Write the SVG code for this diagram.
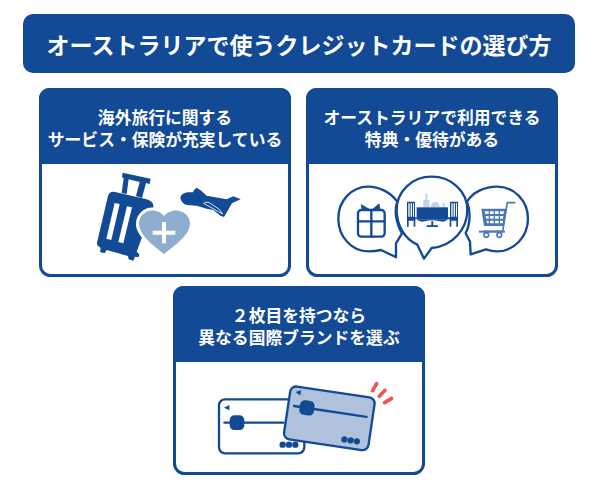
<svg xmlns="http://www.w3.org/2000/svg" width="600" height="490" viewBox="0 0 600 490">
<style>
.h{fill:#134a96}
.p{fill:#fff;stroke:#134a96;stroke-width:3}
.t{font-family:"Noto Sans CJK JP","Noto Sans",sans-serif;font-weight:700;fill:#fff;text-anchor:middle}
.c{font-size:16.800px}
.l{fill:none;stroke:#134a96;stroke-width:7;stroke-linejoin:round;stroke-linecap:round}
.f{fill:#134a96}
.w{fill:#fff}
</style>
<rect width="600" height="490" fill="#fff"/>
<g id="title"><rect x="23" y="14" width="552" height="59" rx="10" class="h"/>
<text x="299" y="54" class="t" font-size="23">オーストラリアで使うクレジットカードの選び方</text></g>

<g id="card-travel">
<rect x="40.500" y="89.500" width="249" height="186" rx="10" class="p"/>
<path d="M39 164V98a10 10 0 0 1 10-10H281a10 10 0 0 1 10 10V164Z" class="h"/>
<text x="165" y="123.500" class="t c">海外旅行に関する</text>
<text x="165" y="145.500" class="t c">サービス・保険が充実している</text>
<g transform="translate(40 160) scale(.3333)">
<path class="f" d="M248 38 332 56 329 72 318 69 306 114 288 108 299 66 266 58 260 102 245 99 251 54 246 52Z"/>
<path class="f" d="M222 95 320 118Q342 126 340 140L290 275 298 283 296 292 285 290 280 302 266 298 264 288 200 270 194 280 180 276 182 264 172 256Q170 250 172 244L204 108Q208 94 222 95Z"/>
<path class="w" d="M224 129 239 132 214 240 199 236ZM261 139 276 142 250 250 235 246Z"/>
<path class="w" d="M372 292C340 262 288 232 288 192 288 160 318 136 348 144 358 146 366 150 372 156 378 150 388 146 398 144 428 138 458 160 458 192 458 232 404 262 372 292Z"/>
<path fill="#8fadd0" d="M372 283C340 256 297 226 297 190 297 165 320 147 345 152 357 154 366 160 372 168 378 160 388 154 400 152 425 148 450 165 450 190 450 226 404 256 372 283Z"/>
<path class="w" d="M366 186H378V212H406V224H378V250H366V224H338V212H366Z"/>
<path class="f" d="M421 113Q424 100 442 97L459 97 462 90 470 83 484 92 500 107 560 118 580 109 602 118 576 130 552 171 541 167 520 150 500 146 470 137 440 135Q424 130 421 113Z"/>
<path fill="none" stroke="#fff" stroke-width="2.500" d="M491 130Q495 124 508 128L538 148 548 162 530 152Z"/>
</g>
</g>

<g id="card-benefit">
<rect x="307.500" y="89.500" width="249" height="186" rx="10" class="p"/>
<path d="M306 164V98a10 10 0 0 1 10-10H548a10 10 0 0 1 10 10V164Z" class="h"/>
<text x="432" y="123.500" class="t c">オーストラリアで利用できる</text>
<text x="432" y="145.500" class="t c">特典・優待がある</text>
<g transform="translate(310 160) scale(.3333)">
<path class="l" d="M258 292 246 286 213 270C200 273 188 274 175 274 125 274 85 230 85 176 85 122 125 80 175 80 205 80 240 95 262 125 252 150 258 190 276 220L258 250Z"/>
<path class="l" d="M482 283 480 245 467 220C482 190 482 150 471 125 490 95 525 80 562 80 612 80 654 122 654 176 654 230 612 274 562 274 550 274 540 272 528 268Z"/>
<path class="l" style="fill:#fff" d="M342 296 322 254C285 238 260 196 260 150 260 94 306 50 365 50 424 50 472 94 472 150 472 206 430 258 365 264Z"/>
<g><rect class="l" x="144" y="150" width="80" height="80" rx="10"/>
<path class="l" d="M144 184H224M184 150V230"/>
<path class="f" d="M152 132 184 150 208 130 212 153H156Z"/></g>
<g fill="#134a96">
<path fill="#c3d3e6" d="M340 142V120H346V100H352V120H358V142ZM362 142Q364 126 376 126 388 126 390 142ZM398 128h6v14h-6Z"/>
<rect x="320" y="142" width="94" height="36"/>
<path d="M320 178Q330 188 345 184 366 178 390 184 405 188 414 178ZM364 184H370V196H384V201H350V196H364Z"/>
<path d="M291 125H315V172H320V178H316V200H311V182H296V200H291ZM295 130V170H299V130ZM302 130V170H306V130ZM309 130V170H312V130Z" fill-rule="evenodd"/>
<path d="M420 125H444V172 200H439V182H424V200H419V178H414V172H420ZM424 130V170H428V130ZM431 130V170H435V130ZM438 130V170H441V130Z" fill-rule="evenodd"/>
</g>
<g fill="#4e78b3">
<path fill="none" stroke="#4e78b3" stroke-width="5" d="M616 128H592L578 214H520"/>
<path fill-rule="evenodd" d="M514 146H590L582 198H522ZM524 154 526 162H536V154ZM540 154V162H551V154ZM555 154V162H566V154ZM570 154V162H581L582 154ZM527 168 529 176H536V168ZM540 168V176H551V168ZM555 168V176H566V168ZM570 168V176H579L580 168ZM530 182 531 190H536V182ZM540 182V190H551V182ZM555 182V190H566V182ZM570 182V190H578L579 182Z"/>
<rect x="507" y="212" width="78" height="6"/>
</g>
<circle cx="529" cy="225" r="7" fill="#fff" stroke="#4e78b3" stroke-width="5"/>
<circle cx="568" cy="225" r="7" fill="#fff" stroke="#4e78b3" stroke-width="5"/>
</g>
</g>

<g id="card-brand">
<rect x="174.500" y="287.500" width="249" height="186" rx="10" class="p"/>
<path d="M173 362V296a10 10 0 0 1 10-10H415a10 10 0 0 1 10 10V362Z" class="h"/>
<text x="299" y="321.500" class="t c">２枚目を持つなら</text>
<text x="299" y="343.500" class="t c">異なる国際ブランドを選ぶ</text>
<g transform="translate(200 370) scale(.3333)">
<rect x="57" y="88" width="256" height="162" rx="18" fill="#fff" stroke="#134a96" stroke-width="7"/>
<path class="f" d="M72 113 88 105V121Z"/>
<path class="l" d="M73 158H250"/>
<rect x="89" y="136" width="44" height="44" rx="14" class="f"/>
<circle cx="248" cy="224" r="9.500" class="f"/><circle cx="267" cy="224" r="9.500" class="f"/><circle cx="286" cy="224" r="9.500" class="f"/>
<g transform="rotate(8.500 388 145)">
<rect x="260" y="65" width="256" height="160" rx="18" fill="#b0c1dc" stroke="#134a96" stroke-width="7"/>
<path class="f" d="M276 82 292 74V90Z"/>
<path class="l" d="M278 124H498"/>
<rect x="295" y="102" width="44" height="44" rx="14" class="f"/>
<circle cx="442" cy="201" r="9.500" class="f"/><circle cx="461" cy="201" r="9.500" class="f"/><circle cx="480" cy="201" r="9.500" class="f"/>
</g>
<path fill="none" stroke="#e8584f" stroke-width="11" stroke-linecap="round" d="M518 62 530 41M538 79 555 61M554 98 575 85"/>
</g>
</g>
</svg>
